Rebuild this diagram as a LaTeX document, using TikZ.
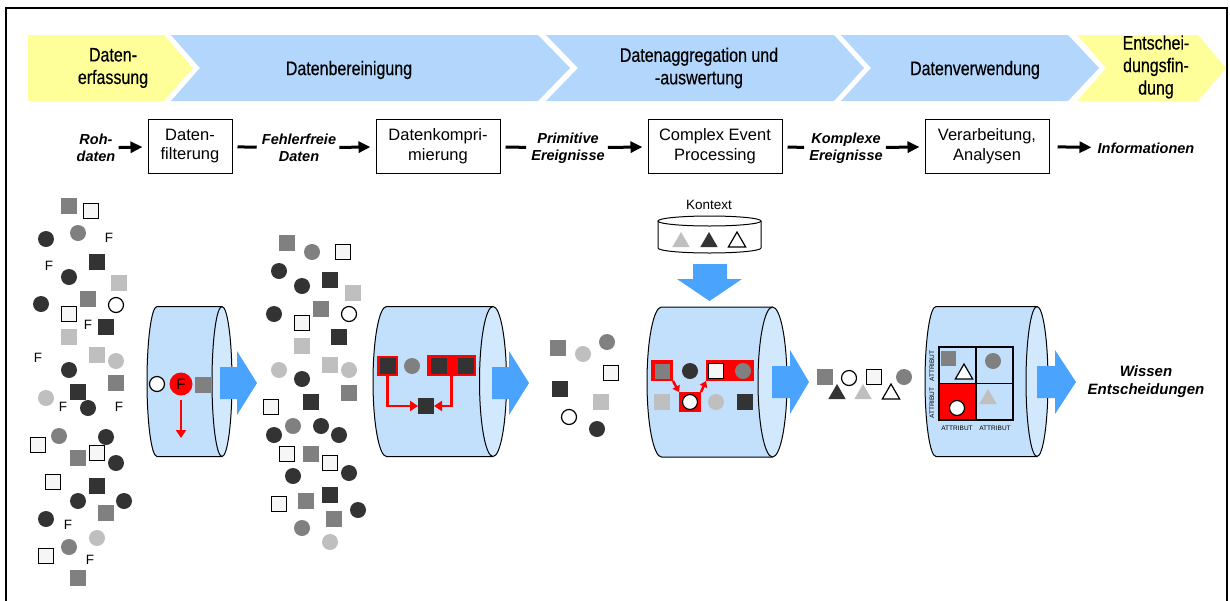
\documentclass[tikz,border=0pt]{standalone}
\usepackage{fontspec}
\setmainfont{Liberation Sans}
\newfontfamily\narrowfont[FakeStretch=0.82,FakeBold=0.4]{Liberation Sans}
\usetikzlibrary{arrows.meta,shapes.geometric}

\definecolor{banyellow}{RGB}{255,255,153}
\definecolor{banblue}{RGB}{178,214,252}
\definecolor{cylbody}{RGB}{194,224,252}
\definecolor{cylface}{RGB}{210,233,253}
\definecolor{arrblue}{RGB}{74,163,252}
\definecolor{cdark}{RGB}{51,51,51}
\definecolor{cmid}{RGB}{128,128,128}
\definecolor{clight}{RGB}{191,191,191}
\definecolor{cwhite}{RGB}{246,246,246}

% horizontal cylinder: left centre x, right centre x, centre y, x radius, y radius
\newcommand\drawcyl[5]{%
  \fill[cylbody] (#1,#3-#5) -- (#2,#3-#5) -- (#2,#3+#5) -- (#1,#3+#5)
    arc[start angle=270,end angle=90,x radius=#4pt,y radius=#5pt] -- cycle;
  \draw[line width=1pt] (#2,#3-#5) -- (#1,#3-#5)
    arc[start angle=90,end angle=270,x radius=#4pt,y radius=#5pt] -- (#2,#3+#5);
  \draw[line width=1pt,fill=cylface] (#2,#3) ellipse[x radius=#4pt,y radius=#5pt];
}
% blue block arrow pointing right: shaft start, head start, tip, centre y
\newcommand\blockarrow[4]{%
  \fill[arrblue] (#1,#4-16) -- (#2,#4-16) -- (#2,#4-32) -- (#3,#4)
    -- (#2,#4+32) -- (#2,#4+16) -- (#1,#4+16) -- cycle;
}

\begin{document}
\begin{tikzpicture}[x=1pt,y=-1pt,
  shp/.style={inner sep=0pt,outer sep=0pt},
  dsq/.style={shp,rectangle,fill=cdark,minimum size=16pt},
  msq/.style={shp,rectangle,fill=cmid,minimum size=16pt},
  lsq/.style={shp,rectangle,fill=clight,minimum size=16pt},
  wsq/.style={shp,rectangle,fill=cwhite,draw=black,line width=1.2pt,minimum size=15pt},
  dci/.style={shp,circle,fill=cdark,minimum size=16pt},
  mci/.style={shp,circle,fill=cmid,minimum size=16pt},
  lci/.style={shp,circle,fill=clight,minimum size=16pt},
  wci/.style={shp,circle,fill=white,draw=black,line width=1.2pt,minimum size=15pt},
  tri/.style={shp,regular polygon,regular polygon sides=3,minimum size=20pt},
  dtri/.style={tri,fill=cdark},
  ltri/.style={tri,fill=clight},
  wtri/.style={tri,fill=white,draw=black,line width=1.2pt},
  fl/.style={inner sep=0pt,font=\fontsize{13.5}{14}\selectfont},
  bantext/.style={inner sep=0pt,align=center,font=\narrowfont\fontsize{19.5}{22.5}\selectfont},
  pbox/.style={draw=black,line width=1pt,minimum height=54pt,inner sep=0pt,align=center,
    font=\fontsize{16.5}{19.5}\selectfont},
  plab/.style={inner sep=1pt,align=center,font=\bfseries\itshape\fontsize{14.5}{17.5}\selectfont},
  parr/.style={line width=3pt,-{Triangle[length=12pt,width=11pt]},shorten >=5pt,shorten <=2pt},
  pline/.style={line width=3pt,shorten <=5pt,shorten >=4pt},
  redbox/.style={shp,rectangle,fill=red},
  rarr/.style={draw=red,line width=2.5pt,-{Triangle[length=8pt,width=10pt]}},
  cell/.style={shp,rectangle,draw=black,line width=1.1pt,minimum width=37pt,minimum height=36.5pt},
  attr/.style={inner sep=0pt,font=\fontsize{6.5}{7}\selectfont}
]
\useasboundingbox (0,0) rectangle (1230,600);

% outer frame
\draw[line width=2pt] (6,606) -- (6,8) -- (1227,8) -- (1227,606);

% phase banner
\fill[banyellow] (28,35) -- (164,35) -- (193,68) -- (164,101) -- (28,101) -- cycle;
\fill[banblue] (171,35) -- (538,35) -- (570,68) -- (538,101) -- (171,101) -- (200,68) -- cycle;
\fill[banblue] (546,35) -- (834,35) -- (864,68) -- (834,101) -- (546,101) -- (578,68) -- cycle;
\fill[banblue] (841,35) -- (1068,35) -- (1099,68) -- (1068,101) -- (841,101) -- (871,68) -- cycle;
\fill[banyellow] (1077,35) -- (1198,35) -- (1226,68) -- (1198,101) -- (1077,101) -- (1106,68) -- cycle;
\node[bantext] (ph1) at (113,68) {Daten-\\erfassung};
\node[bantext] (ph2) at (349,70) {Datenbereinigung};
\node[bantext] (ph3) at (699,68) {Datenaggregation und\\-auswertung};
\node[bantext] (ph4) at (975,70) {Datenverwendung};
\node[bantext] (ph5) at (1156,67) {Entschei-\\dungsfin-\\dung};

% processing chain
\node[plab] (roh) at (96,148) {Roh-\\daten};
\node[pbox,minimum width=84pt] (b1) at (190,146) {Daten-\\filterung};
\node[plab] (fehl) at (299,148) {Fehlerfreie\\Daten};
\node[pbox,minimum width=124pt] (b2) at (438,146) {Datenkompri-\\mierung};
\node[plab] (prim) at (568,148) {Primitive\\Ereignisse};
\node[pbox,minimum width=134pt] (b3) at (715,146) {Complex Event\\Processing};
\node[plab] (komp) at (846,148) {Komplexe\\Ereignisse};
\node[pbox,minimum width=124pt] (b4) at (987,146) {Verarbeitung,\\Analysen};
\node[plab] (info) at (1146,148) {Informationen};
\draw[parr] (roh) -- (b1);
\draw[pline] (b1) -- (fehl);
\draw[parr] (fehl) -- (b2);
\draw[pline] (b2) -- (prim);
\draw[parr] (prim) -- (b3);
\draw[pline] (b3) -- (komp);
\draw[parr] (komp) -- (b4);
\draw[parr,shorten <=8pt] (b4) -- (info);

% raw data
\foreach \s/\x/\y [count=\i] in {msq/69/206, wsq/91/211, dci/46/239, mci/78/233, dsq/97/262,
  dci/69/277, lsq/119/283, dci/41/304, msq/88/299, wci/116/305, wsq/69/314, dsq/106/327,
  lsq/69/337, lsq/97/355, lci/116/361, dci/69/370, msq/116/383, lci/46/398, dsq/78/392,
  dci/88/408, wsq/38/445, mci/59/436, dci/106/437, msq/78/458, wsq/97/453, dci/116/463,
  wsq/53/482, dsq/97/486, dci/78/501, dci/124/501, dci/46/519, msq/106/513, lci/97/538,
  mci/69/547, wsq/46/556, msq/78/578}
  \node[\s] (a\i) at (\x,\y) {};
\foreach \x/\y [count=\i] in {109/238, 49/266, 88/325, 38/358, 63/407, 119/407, 68/525, 90/560}
  \node[fl] (f\i) at (\x,\y) {F};

% filtering
\drawcyl{157}{222}{381.5}{10}{75}
\node[wci] (c1a) at (157,384) {};
\node[shp,circle,fill=red,minimum size=23pt,font=\fontsize{15}{15}\selectfont] (c1f) at (181,384) {F};
\node[msq] (c1b) at (203,385) {};
\coordinate (c1drop) at (181,438);
\draw[rarr,shorten <=4pt] (c1f) -- (c1drop);
\blockarrow{220}{237}{257}{383}

% error-free data
\foreach \s/\x/\y [count=\i] in {msq/287/243, mci/312/252, wsq/343/252, dci/279/271, dci/302/286,
  dsq/330/280, lsq/353/293, dci/274/314, msq/321/309, wci/349/314, wsq/302/323, dsq/339/337,
  lsq/302/346, lci/279/370, lsq/330/365, lci/349/370, dci/302/379, msq/349/393, wsq/271/407,
  dsq/311/402, mci/293/426, dci/321/426, dci/274/435, dci/339/435, wsq/287/454, msq/311/454,
  wsq/330/463, dci/293/476, dci/349/473, wsq/279/504, msq/306/501, dsq/330/495, dci/358/510,
  mci/302/528, msq/334/519, lci/330/542}
  \node[\s] (b\i) at (\x,\y) {};

% compression
\drawcyl{386.5}{493}{381.5}{13.5}{75}
\node[redbox,minimum width=21pt,minimum height=20pt] (r1) at (387.5,366) {};
\node[dsq] (r1a) at (388,366) {};
\node[mci] (r0) at (412,366) {};
\node[redbox,minimum width=49pt,minimum height=21pt] (r2) at (451.5,365.5) {};
\node[dsq] (r2a) at (439,366) {};
\node[dsq] (r2b) at (466,366) {};
\node[dsq] (rt) at (426,406) {};
\draw[rarr] (r1.south) |- (rt.west);
\draw[rarr] (r2.south) |- (rt.east);
\blockarrow{492}{509}{529}{383}

% primitive events
\foreach \s/\x/\y [count=\i] in {msq/558/348, lci/583/354, mci/607/342, wsq/611/373, dsq/560/389,
  lsq/601/402, wci/569/417, dci/597/429}
  \node[\s] (e\i) at (\x,\y) {};

% context store
\node[inner sep=0pt,font=\fontsize{13.5}{14}\selectfont] (ktx) at (709,205) {Kontext};
\fill[white] (658,221) -- (658,248) arc[start angle=180,end angle=360,x radius=51.5pt,y radius=5pt] -- (761,221) -- cycle;
\draw[line width=1pt] (658,221) -- (658,248) arc[start angle=180,end angle=360,x radius=51.5pt,y radius=5pt] -- (761,221);
\draw[line width=1pt,fill=white] (709.5,221) ellipse[x radius=51.5pt,y radius=5pt];
\node[ltri] (k1) at (681,242) {};
\node[dtri] (k2) at (709,242) {};
\node[wtri] (k3) at (737,242) {};
\fill[arrblue] (693,264) -- (727,264) -- (727,279) -- (742,279) -- (709.5,301) -- (677,279) -- (693,279) -- cycle;

% complex event processing
\drawcyl{661.5}{772.5}{382}{14.5}{75}
\node[redbox,minimum width=22pt,minimum height=21pt] (q1) at (662,370.5) {};
\node[msq,minimum size=15pt] (q1a) at (662,371) {};
\node[dci] (q0) at (690,371) {};
\node[redbox,minimum width=48pt,minimum height=21pt] (q2) at (730,370.5) {};
\node[wsq] (q2a) at (716,371) {};
\node[mci] (q2b) at (743,371) {};
\node[lsq] (q4) at (662,402) {};
\node[redbox,minimum width=22pt,minimum height=20pt] (q3) at (690,402) {};
\node[wci] (q3a) at (690,402) {};
\node[lci] (q5) at (716,402) {};
\node[dsq] (q6) at (745,402) {};
\draw[rarr,-{Triangle[length=6pt,width=8pt]}] (q1.south east) -- (q3.north west);
\draw[rarr,-{Triangle[length=6pt,width=8pt]}] (q3.north east) -- (q2.south west);
\blockarrow{772}{790}{809}{382}

% complex events
\node[msq] (d1) at (825,377) {};
\node[wci] (d2) at (849,378) {};
\node[wsq] (d3) at (874,377) {};
\node[mci] (d4) at (904,377) {};
\node[dtri] (d5) at (837,394) {};
\node[ltri] (d6) at (863,394) {};
\node[wtri] (d7) at (891,394) {};

% analysis
\drawcyl{936}{1037}{381.5}{11}{75}
\node[cell] (g1) at (957.5,365.25) {};
\node[cell] (g2) at (994.5,365.25) {};
\node[cell,fill=red] (g3) at (957.5,401.75) {};
\node[cell] (g4) at (994.5,401.75) {};
\node[msq,minimum size=15pt] (g1a) at (948,358) {};
\node[wtri] (g1b) at (964,374) {};
\node[mci] (g2a) at (993,361) {};
\node[wci] (g3a) at (957,408) {};
\node[ltri] (g4a) at (988,399) {};
\node[attr] (at1) at (957,428) {ATTRIBUT};
\node[attr] (at2) at (995,428) {ATTRIBUT};
\node[attr,rotate=90] (at3) at (932,366) {ATTRIBUT};
\node[attr,rotate=90] (at4) at (932,403) {ATTRIBUT};
\blockarrow{1037}{1055}{1076}{382}

\node[plab,font=\bfseries\itshape\fontsize{15}{18}\selectfont] (wis) at (1146,382) {Wissen\\Entscheidungen};
\end{tikzpicture}
\end{document}
